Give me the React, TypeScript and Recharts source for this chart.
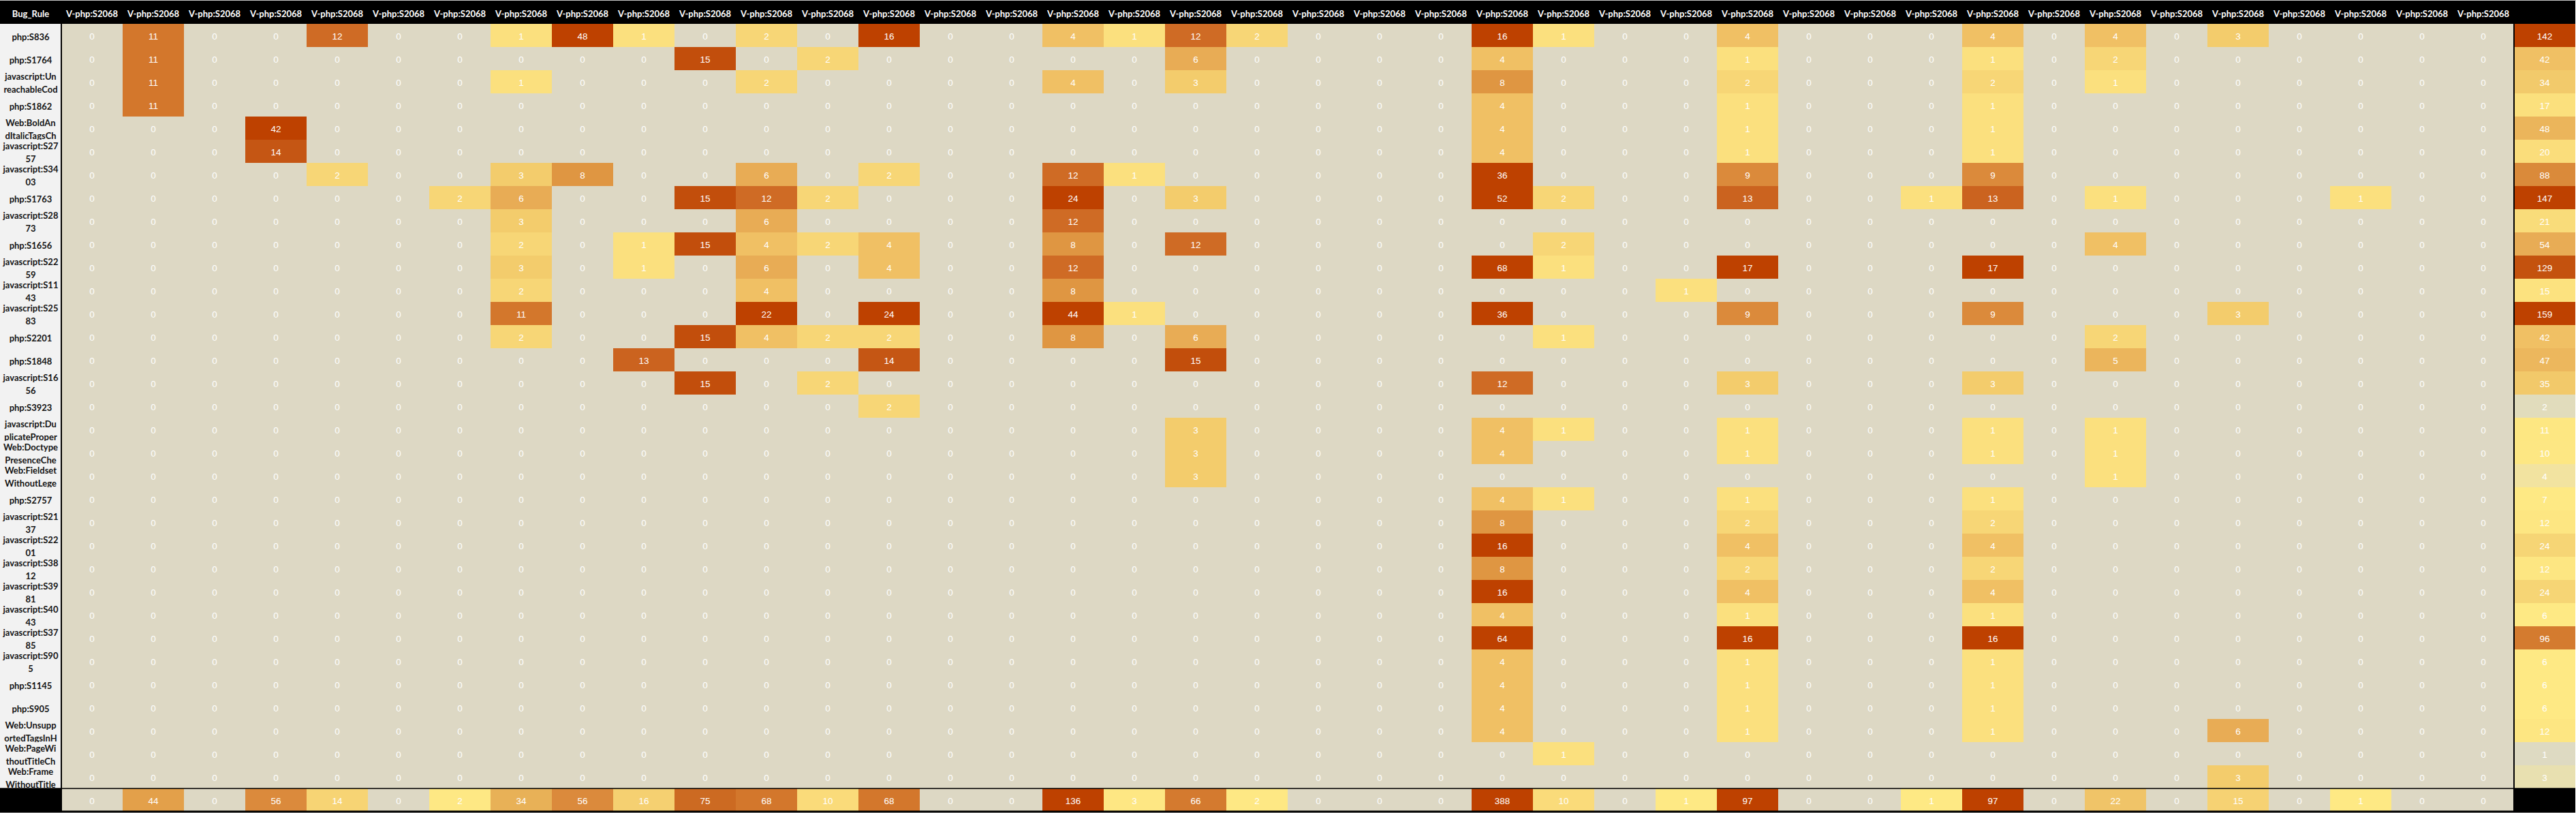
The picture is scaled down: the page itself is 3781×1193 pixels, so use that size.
import React from 'react';
import { BarChart, Bar, XAxis, YAxis, ReferenceLine } from 'recharts';

// ---------- text ----------
const cornerLabel = 'Bug_Rule';
const versionHeaders: string[] = Array(40).fill('V-php:S2068');
const bugRuleLabels: string[][] = [
  ['php:S836'], ['php:S1764'], ['javascript:Un', 'reachableCod'], ['php:S1862'],
  ['Web:BoldAn', 'dItalicTagsCh'], ['javascript:S27', '57'], ['javascript:S34', '03'], ['php:S1763'],
  ['javascript:S28', '73'], ['php:S1656'], ['javascript:S22', '59'], ['javascript:S11', '43'],
  ['javascript:S25', '83'], ['php:S2201'], ['php:S1848'], ['javascript:S16', '56'], ['php:S3923'],
  ['javascript:Du', 'plicateProper'], ['Web:Doctype', 'PresenceChe'], ['Web:Fieldset', 'WithoutLege'],
  ['php:S2757'], ['javascript:S21', '37'], ['javascript:S22', '01'], ['javascript:S38', '12'],
  ['javascript:S39', '81'], ['javascript:S40', '43'], ['javascript:S37', '85'], ['javascript:S90', '5'],
  ['php:S1145'], ['php:S905'], ['Web:Unsupp', 'ortedTagsInH'], ['Web:PageWi', 'thoutTitleCh'],
  ['Web:Frame', 'WithoutTitle'],
];

// ---------- values (one array per rule, 40 version columns) ----------
const php_S836 = [0,11,0,0,12,0,0,1,48,1, 0,2,0,16,0,0,4,1,12,2, 0,0,0,16,1,0,0,4,0,0, 0,4,0,4,0,3,0,0,0,0];
const php_S1764 = [0,11,0,0,0,0,0,0,0,0, 15,0,2,0,0,0,0,0,6,0, 0,0,0,4,0,0,0,1,0,0, 0,1,0,2,0,0,0,0,0,0];
const js_Unreachable = [0,11,0,0,0,0,0,1,0,0, 0,2,0,0,0,0,4,0,3,0, 0,0,0,8,0,0,0,2,0,0, 0,2,0,1,0,0,0,0,0,0];
const php_S1862 = [0,11,0,0,0,0,0,0,0,0, 0,0,0,0,0,0,0,0,0,0, 0,0,0,4,0,0,0,1,0,0, 0,1,0,0,0,0,0,0,0,0];
const web_BoldItalic = [0,0,0,42,0,0,0,0,0,0, 0,0,0,0,0,0,0,0,0,0, 0,0,0,4,0,0,0,1,0,0, 0,1,0,0,0,0,0,0,0,0];
const js_S2757 = [0,0,0,14,0,0,0,0,0,0, 0,0,0,0,0,0,0,0,0,0, 0,0,0,4,0,0,0,1,0,0, 0,1,0,0,0,0,0,0,0,0];
const js_S3403 = [0,0,0,0,2,0,0,3,8,0, 0,6,0,2,0,0,12,1,0,0, 0,0,0,36,0,0,0,9,0,0, 0,9,0,0,0,0,0,0,0,0];
const php_S1763 = [0,0,0,0,0,0,2,6,0,0, 15,12,2,0,0,0,24,0,3,0, 0,0,0,52,2,0,0,13,0,0, 1,13,0,1,0,0,0,1,0,0];
const js_S2873 = [0,0,0,0,0,0,0,3,0,0, 0,6,0,0,0,0,12,0,0,0, 0,0,0,0,0,0,0,0,0,0, 0,0,0,0,0,0,0,0,0,0];
const php_S1656 = [0,0,0,0,0,0,0,2,0,1, 15,4,2,4,0,0,8,0,12,0, 0,0,0,0,2,0,0,0,0,0, 0,0,0,4,0,0,0,0,0,0];
const js_S2259 = [0,0,0,0,0,0,0,3,0,1, 0,6,0,4,0,0,12,0,0,0, 0,0,0,68,1,0,0,17,0,0, 0,17,0,0,0,0,0,0,0,0];
const js_S1143 = [0,0,0,0,0,0,0,2,0,0, 0,4,0,0,0,0,8,0,0,0, 0,0,0,0,0,0,1,0,0,0, 0,0,0,0,0,0,0,0,0,0];
const js_S2583 = [0,0,0,0,0,0,0,11,0,0, 0,22,0,24,0,0,44,1,0,0, 0,0,0,36,0,0,0,9,0,0, 0,9,0,0,0,3,0,0,0,0];
const php_S2201 = [0,0,0,0,0,0,0,2,0,0, 15,4,2,2,0,0,8,0,6,0, 0,0,0,0,1,0,0,0,0,0, 0,0,0,2,0,0,0,0,0,0];
const php_S1848 = [0,0,0,0,0,0,0,0,0,13, 0,0,0,14,0,0,0,0,15,0, 0,0,0,0,0,0,0,0,0,0, 0,0,0,5,0,0,0,0,0,0];
const js_S1656 = [0,0,0,0,0,0,0,0,0,0, 15,0,2,0,0,0,0,0,0,0, 0,0,0,12,0,0,0,3,0,0, 0,3,0,0,0,0,0,0,0,0];
const php_S3923 = [0,0,0,0,0,0,0,0,0,0, 0,0,0,2,0,0,0,0,0,0, 0,0,0,0,0,0,0,0,0,0, 0,0,0,0,0,0,0,0,0,0];
const js_DuplicateProp = [0,0,0,0,0,0,0,0,0,0, 0,0,0,0,0,0,0,0,3,0, 0,0,0,4,1,0,0,1,0,0, 0,1,0,1,0,0,0,0,0,0];
const web_Doctype = [0,0,0,0,0,0,0,0,0,0, 0,0,0,0,0,0,0,0,3,0, 0,0,0,4,0,0,0,1,0,0, 0,1,0,1,0,0,0,0,0,0];
const web_Fieldset = [0,0,0,0,0,0,0,0,0,0, 0,0,0,0,0,0,0,0,3,0, 0,0,0,0,0,0,0,0,0,0, 0,0,0,1,0,0,0,0,0,0];
const php_S2757 = [0,0,0,0,0,0,0,0,0,0, 0,0,0,0,0,0,0,0,0,0, 0,0,0,4,1,0,0,1,0,0, 0,1,0,0,0,0,0,0,0,0];
const js_S2137 = [0,0,0,0,0,0,0,0,0,0, 0,0,0,0,0,0,0,0,0,0, 0,0,0,8,0,0,0,2,0,0, 0,2,0,0,0,0,0,0,0,0];
const js_S2201 = [0,0,0,0,0,0,0,0,0,0, 0,0,0,0,0,0,0,0,0,0, 0,0,0,16,0,0,0,4,0,0, 0,4,0,0,0,0,0,0,0,0];
const js_S3812 = [0,0,0,0,0,0,0,0,0,0, 0,0,0,0,0,0,0,0,0,0, 0,0,0,8,0,0,0,2,0,0, 0,2,0,0,0,0,0,0,0,0];
const js_S3981 = [0,0,0,0,0,0,0,0,0,0, 0,0,0,0,0,0,0,0,0,0, 0,0,0,16,0,0,0,4,0,0, 0,4,0,0,0,0,0,0,0,0];
const js_S4043 = [0,0,0,0,0,0,0,0,0,0, 0,0,0,0,0,0,0,0,0,0, 0,0,0,4,0,0,0,1,0,0, 0,1,0,0,0,0,0,0,0,0];
const js_S3785 = [0,0,0,0,0,0,0,0,0,0, 0,0,0,0,0,0,0,0,0,0, 0,0,0,64,0,0,0,16,0,0, 0,16,0,0,0,0,0,0,0,0];
const js_S905 = [0,0,0,0,0,0,0,0,0,0, 0,0,0,0,0,0,0,0,0,0, 0,0,0,4,0,0,0,1,0,0, 0,1,0,0,0,0,0,0,0,0];
const php_S1145 = [0,0,0,0,0,0,0,0,0,0, 0,0,0,0,0,0,0,0,0,0, 0,0,0,4,0,0,0,1,0,0, 0,1,0,0,0,0,0,0,0,0];
const php_S905 = [0,0,0,0,0,0,0,0,0,0, 0,0,0,0,0,0,0,0,0,0, 0,0,0,4,0,0,0,1,0,0, 0,1,0,0,0,0,0,0,0,0];
const web_Unsupported = [0,0,0,0,0,0,0,0,0,0, 0,0,0,0,0,0,0,0,0,0, 0,0,0,4,0,0,0,1,0,0, 0,1,0,0,0,6,0,0,0,0];
const web_PageNoTitle = [0,0,0,0,0,0,0,0,0,0, 0,0,0,0,0,0,0,0,0,0, 0,0,0,0,1,0,0,0,0,0, 0,0,0,0,0,0,0,0,0,0];
const web_FrameNoTitle = [0,0,0,0,0,0,0,0,0,0, 0,0,0,0,0,0,0,0,0,0, 0,0,0,0,0,0,0,0,0,0, 0,0,0,0,0,3,0,0,0,0];

const ruleRows: number[][] = [
  php_S836, php_S1764, js_Unreachable, php_S1862, web_BoldItalic, js_S2757, js_S3403, php_S1763,
  js_S2873, php_S1656, js_S2259, js_S1143, js_S2583, php_S2201, php_S1848, js_S1656, php_S3923,
  js_DuplicateProp, web_Doctype, web_Fieldset, php_S2757, js_S2137, js_S2201, js_S3812, js_S3981,
  js_S4043, js_S3785, js_S905, php_S1145, php_S905, web_Unsupported, web_PageNoTitle, web_FrameNoTitle,
];

const ruleTotals = [142,42,34,17,48,20,88,147,21,54,129,15,159,42,47,35,2,11,10,4,7,12,24,12,24,6,96,6,6,6,12,1,3];
const versionTotals = [0,44,0,56,14,0,2,34,56,16, 75,68,10,68,0,0,136,3,66,2, 0,0,0,388,10,0,1,97,0,0, 1,97,0,22,0,15,0,1,0,0];

// ---------- colour scales ----------
const BEIGE = '#DDD8C4';
const cellStops: [number, string][] = [
  [1, '#FBE07E'], [2, '#F7D676'], [3, '#F3CC6C'], [4, '#F0C064'], [5, '#EBB55C'], [6, '#E8AC55'],
  [8, '#DF9642'], [9, '#DB8A3B'], [11, '#D3772C'], [12, '#CF6B25'], [13, '#CB631F'], [14, '#C55614'],
  [15, '#C24E0C'], [16, '#BE4100'],
];
const ruleTotalStops: [number, string][] = [
  [1, '#DEDAC2'], [2, '#E1DCBC'], [3, '#E8E0B0'], [4, '#F2E3A0'], [6, '#FEE984'], [12, '#FDE682'],
  [17, '#FBE07D'], [21, '#F9DC7A'], [24, '#F6D575'], [35, '#F2C96A'], [42, '#F0C064'], [48, '#EBB55B'],
  [54, '#E8AC55'], [88, '#DA8A3A'], [96, '#D47B2F'], [129, '#C4520E'], [142, '#BE4100'],
];
const versionTotalStops: [number, string][] = [
  [1, '#FEE984'], [3, '#FEE783'], [10, '#FADB7A'], [16, '#F5D071'], [22, '#F0C468'], [34, '#E8B157'],
  [44, '#E3A04A'], [56, '#DB8A3C'], [68, '#D3772C'], [75, '#CC6A22'], [97, '#BE4100'],
];

function hex(c: string) {
  return [1, 3, 5].map((i) => parseInt(c.slice(i, i + 2), 16));
}
function scaleColor(stops: [number, string][], v: number) {
  if (v <= 0) return BEIGE;
  if (v <= stops[0][0]) return stops[0][1];
  for (let i = 1; i < stops.length; i++) {
    if (v <= stops[i][0]) {
      const [a, ca] = stops[i - 1];
      const [b, cb] = stops[i];
      const t = (v - a) / (b - a);
      const A = hex(ca), B = hex(cb);
      const m = A.map((x, j) => Math.round(x + (B[j] - x) * t));
      return `rgb(${m[0]},${m[1]},${m[2]})`;
    }
  }
  return stops[stops.length - 1][1];
}

// ---------- table for recharts (42 columns x 35 stacked rows) ----------
const columnKeys = ['label', ...versionHeaders.map((_, i) => `d${i + 1}`), 'total'];
const rowKeys = Array.from({ length: bugRuleLabels.length + 2 }, (_, k) => k);
const tableData = columnKeys.map((col, ci) => {
  const e: Record<string, any> = { col, ci };
  rowKeys.forEach((k) => { e[`s${k}`] = 1; });
  return e;
});

const VALUE_FONT = '"Liberation Sans", Arial, sans-serif';
const LABEL_FONT = 'Lato, "Liberation Sans", Arial, sans-serif';
const NROWS = bugRuleLabels.length;

function renderCell(k: number, p: any) {
  const ci: number = p.payload && typeof p.payload.ci === 'number' ? p.payload.ci : p.index;
  const top = Math.min(p.y, p.y + p.height);
  const h = Math.abs(p.height);
  const x = p.x;
  const w = p.width;
  const cx = x + w / 2;
  let fill = BEIGE;
  let lines: string[] = [];
  let color = '#FFFFFF';
  let isLabel = false;
  const lastCol = versionHeaders.length + 1;
  if (k === 0) {
    fill = '#000000';
    isLabel = true;
    lines = ci === 0 ? [cornerLabel] : ci === lastCol ? [] : [versionHeaders[ci - 1]];
  } else if (k <= NROWS) {
    const r = k - 1;
    if (ci === 0) {
      fill = '#F2F2F2';
      color = '#141414';
      isLabel = true;
      lines = bugRuleLabels[r];
    } else if (ci === lastCol) {
      const v = ruleTotals[r];
      fill = scaleColor(ruleTotalStops, v);
      lines = [String(v)];
    } else {
      const v = ruleRows[r][ci - 1];
      fill = scaleColor(cellStops, v);
      lines = [String(v)];
    }
  } else {
    if (ci === 0 || ci === lastCol) {
      fill = '#000000';
    } else {
      const v = versionTotals[ci - 1];
      fill = scaleColor(versionTotalStops, v);
      lines = [String(v)];
    }
  }
  const ys = lines.length === 2 ? [top + 8.7, top + 28.3] : [top + h / 2 + 1.5];
  return (
    <g>
      <rect x={x} y={top} width={w} height={h} fill={fill} shapeRendering="crispEdges" />
      {lines.map((t, i) => (
        <text
          key={i}
          x={cx}
          y={ys[i]}
          textAnchor="middle"
          dominantBaseline="central"
          fill={color}
          fontFamily={isLabel ? LABEL_FONT : VALUE_FONT}
          fontWeight={isLabel ? 700 : 400}
          fontSize={isLabel ? 13 : 13.5}
        >
          {t}
        </text>
      ))}
    </g>
  );
}

export default function App() {
  return (
    <div
      style={{
        position: 'absolute',
        left: 0,
        top: 0,
        width: 3781,
        height: 1193,
        background: '#FFFFFF',
        borderTop: '1px solid #C8C8C8',
        boxSizing: 'border-box',
      }}
    >
      <BarChart
        width={3781}
        height={1192}
        data={tableData}
        margin={{ top: 0, right: 1, bottom: 2, left: 0 }}
        barCategoryGap={0}
        barGap={0}
      >
        <XAxis dataKey="col" type="category" hide />
        <YAxis type="number" domain={[0, rowKeys.length]} reversed hide allowDataOverflow />
        {rowKeys.map((k) => (
          <Bar
            key={k}
            dataKey={`s${k}`}
            stackId="grid"
            isAnimationActive={false}
            shape={(p: any) => renderCell(k, p)}
          />
        ))}
        <ReferenceLine x="d1" position="start" stroke="#000" strokeWidth={2} />
        <ReferenceLine x="total" position="start" stroke="#000" strokeWidth={2} />
        <ReferenceLine y={rowKeys.length - 1} stroke="#000" strokeWidth={1.5} />
        <ReferenceLine y={rowKeys.length} stroke="#000" strokeWidth={3} />
      </BarChart>
    </div>
  );
}
